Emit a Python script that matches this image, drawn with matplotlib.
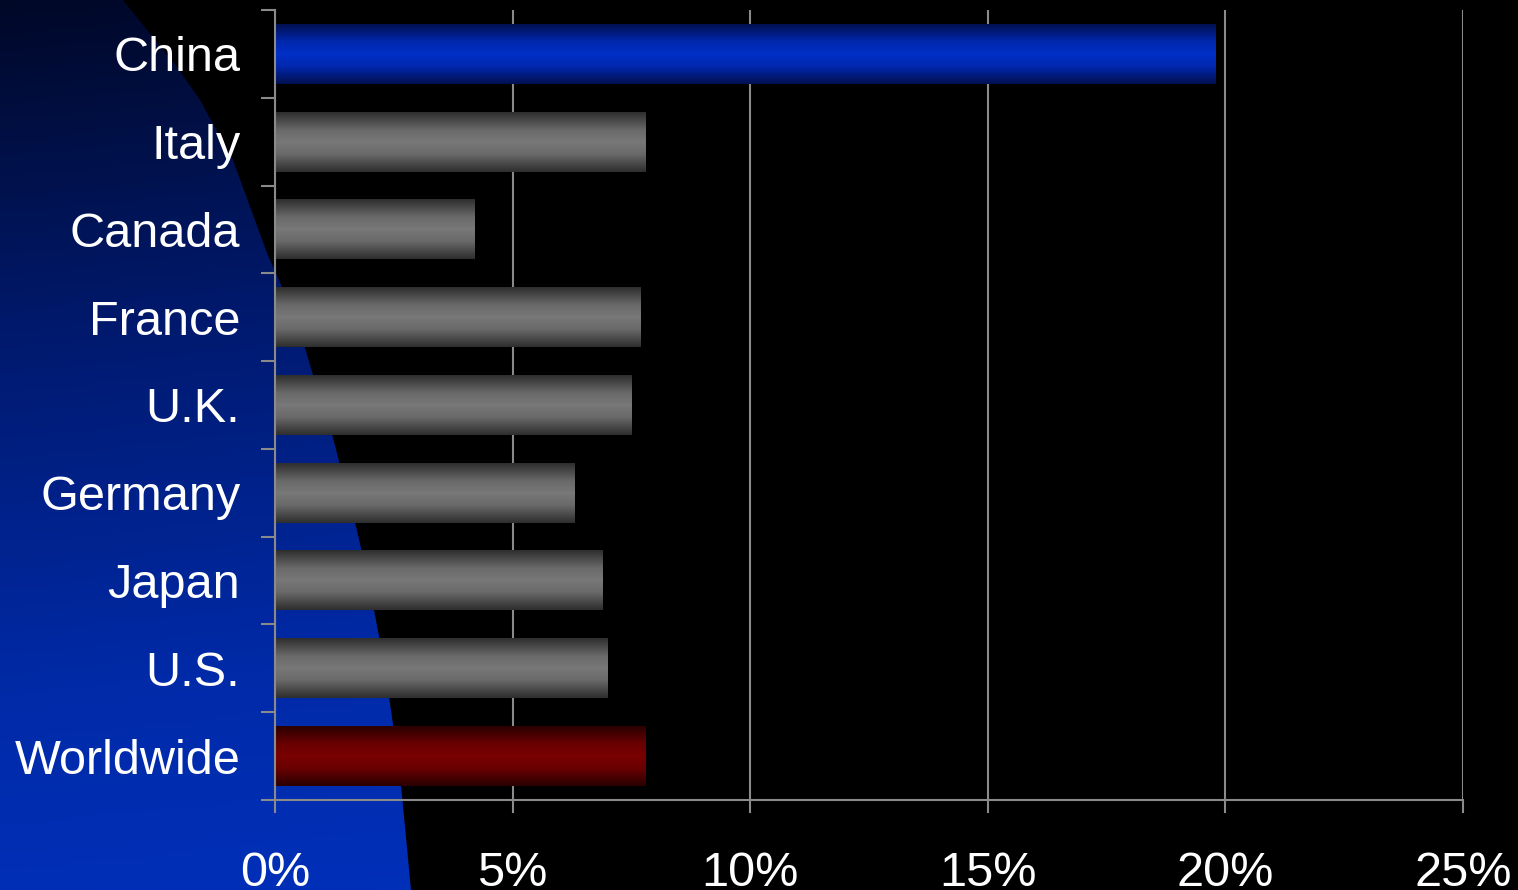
import numpy as np
import matplotlib
matplotlib.use("Agg")
import matplotlib.pyplot as plt
from matplotlib.path import Path
from matplotlib.patches import PathPatch
from matplotlib.colors import LinearSegmentedColormap

categories = ["China", "Italy", "Canada", "France", "U.K.", "Germany", "Japan", "U.S.", "Worldwide"]
values = [19.8, 7.8, 4.2, 7.7, 7.5, 6.3, 6.9, 7.0, 7.8]
bar_kinds = ["blue", "gray", "gray", "gray", "gray", "gray", "gray", "gray", "red"]
xticks = [0, 5, 10, 15, 20, 25]
xtick_labels = ["0%", "5%", "10%", "15%", "20%", "25%"]

plt.rcParams['font.family'] = ['Liberation Sans', 'DejaVu Sans']

W, H = 1518, 890
fig = plt.figure(figsize=(W / 100, H / 100), dpi=100, facecolor='black')

# decorative background shape (slide template)
bg = fig.add_axes([0, 0, 1, 1], zorder=0)
bg.set_xlim(0, W)
bg.set_ylim(H, 0)
bg.axis('off')
boundary = [(123, 0), (177, 67), (200, 100), (233, 160), (267, 253), (282, 287),
            (305, 348), (313, 375), (332, 434), (339, 461), (355, 522), (361, 548),
            (374, 610), (379, 636), (389, 697), (393, 724), (401, 785), (411, 890)]
verts = [(0, 0)] + boundary + [(0, H), (0, 0)]
codes = [Path.MOVETO] + [Path.LINETO] * (len(verts) - 2) + [Path.CLOSEPOLY]
patch = PathPatch(Path(verts, codes), facecolor='none', edgecolor='none')
bg.add_patch(patch)
gy = np.linspace(0, 1, 256).reshape(-1, 1)
gx = np.linspace(0, 1, 64).reshape(1, -1)
grad = np.clip(0.85 * gy + 0.15 * gx, 0, 1)
bg_cmap = LinearSegmentedColormap.from_list('bg', ['#000828', '#001a70', '#002aa8', '#0032c0'])
im = bg.imshow(grad, cmap=bg_cmap, extent=[0, W, H, 0], aspect='auto', vmin=0, vmax=1)
im.set_clip_path(patch)

# main chart
ax = fig.add_axes([275 / W, 1 - 800 / H, (1463 - 275) / W, 790 / H], zorder=1)
ax.patch.set_visible(False)
n = len(categories)
ypos = np.arange(n)
bh = 0.68

grads = {
    "blue": ['#001050', '#0028b0', '#0030c8', '#0028b0', '#001050'],
    "gray": ['#2e2e2e', '#6a6a6a', '#787878', '#6a6a6a', '#2e2e2e'],
    "red": ['#2a0000', '#6a0000', '#7a0000', '#6a0000', '#2a0000'],
}
col = np.linspace(0, 1, 128).reshape(-1, 1)
for y, v, k in zip(ypos, values, bar_kinds):
    cm = LinearSegmentedColormap.from_list(k, list(zip([0, 0.3, 0.5, 0.7, 1], grads[k])))
    ax.barh(y, v, height=bh, color='none', zorder=2)
    ax.imshow(col, cmap=cm, extent=[0, v, y + bh / 2, y - bh / 2], aspect='auto',
              zorder=2, interpolation='bilinear')

ax.set_xlim(0, 25)
ax.set_ylim(n - 0.5, -0.5)

gcol = '#8a8a8a'
ax.set_xticks(xticks)
ax.set_xticklabels(xtick_labels)
ax.set_yticks(ypos)
ax.set_yticklabels(categories)
ax.set_yticks(np.arange(-0.5, n), minor=True)
ax.tick_params(axis='x', which='major', length=9.5, width=1.5, color=gcol, labelsize=35,
               labelcolor='white', pad=27)
ax.tick_params(axis='y', which='major', length=0, labelsize=35, labelcolor='white', pad=25)
ax.tick_params(axis='y', which='minor', length=10, width=1.5, color=gcol)
ax.xaxis.grid(True, color=gcol, lw=1.5)
ax.set_axisbelow(True)
for s in ['top', 'right']:
    ax.spines[s].set_visible(False)
for s in ['left', 'bottom']:
    ax.spines[s].set_color(gcol)
    ax.spines[s].set_linewidth(1.5)

fig.savefig('out.png', dpi=100, facecolor='black')
